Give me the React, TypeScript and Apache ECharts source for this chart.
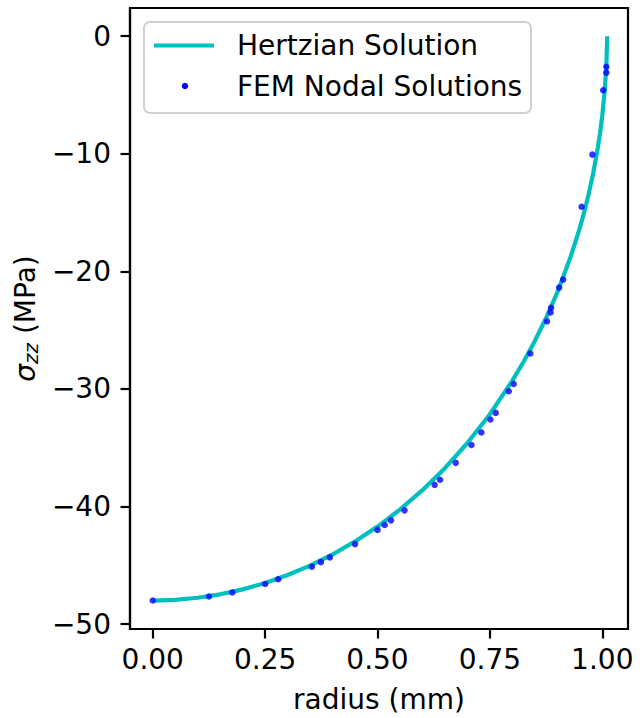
import React, { useEffect, useRef } from "react";
import * as echarts from "echarts";

// Hertzian analytical curve
const hertzRadius = [0, 0.05, 0.1, 0.15, 0.2, 0.25, 0.3, 0.35, 0.4, 0.45, 0.5, 0.55, 0.6, 0.65, 0.7, 0.75, 0.8, 0.825, 0.85, 0.875, 0.9, 0.93, 0.95, 0.96, 0.97, 0.98, 0.99, 0.995, 1.0, 1.005, 1.009, 1.011];
const hertzStress = [-48.0, -47.94, -47.76, -47.47, -47.05, -46.51, -45.83, -45.03, -44.08, -42.97, -41.71, -40.26, -38.61, -36.74, -34.6, -32.15, -29.3, -27.69, -25.92, -23.97, -21.79, -18.72, -16.3, -14.92, -13.37, -11.61, -9.5, -8.25, -6.74, -4.77, -2.6, 0];

// FEM nodal solutions
const femRadius = [0, 0.125, 0.177, 0.25, 0.279, 0.354, 0.374, 0.394, 0.45, 0.5, 0.516, 0.53, 0.56, 0.627, 0.639, 0.674, 0.709, 0.731, 0.751, 0.763, 0.792, 0.803, 0.84, 0.877, 0.885, 0.886, 0.904, 0.913, 0.954, 0.978, 1.002, 1.009, 1.009];
const femStress = [-48.0, -47.66, -47.32, -46.59, -46.19, -45.12, -44.73, -44.33, -43.2, -41.99, -41.57, -41.18, -40.33, -38.16, -37.73, -36.29, -34.77, -33.7, -32.6, -32.04, -30.2, -29.58, -26.99, -24.25, -23.49, -23.1, -21.38, -20.7, -14.5, -10.07, -4.6, -3.1, -2.6];

const xTicks = [0, 0.25, 0.5, 0.75, 1.0];
const yTicks = [-50, -40, -30, -20, -10, 0];

const seriesNames = ["Hertzian Solution", "FEM Nodal Solutions"];

const FONT = "DejaVu Sans";
const FS = 28;

export default function App() {
  const ref = useRef<HTMLDivElement>(null);

  useEffect(() => {
    if (!ref.current) return;
    const chart = echarts.init(ref.current, null, { renderer: "svg" });
    const hertz = hertzRadius.map((r, i) => [r, hertzStress[i]]);
    const fem = femRadius.map((r, i) => [r, femStress[i]]);

    const axisCommon = {
      splitLine: { show: false },
      axisLine: { show: true, onZero: false, lineStyle: { color: "#000", width: 2.2 } },
      axisTick: { show: true, inside: false, length: 9.5, lineStyle: { color: "#000", width: 2.2 } },
    };

    chart.setOption({
      animation: false,
      backgroundColor: "#fff",
      grid: {
        left: 130,
        right: 16,
        top: 8,
        bottom: 87,
        show: true,
        borderColor: "#000",
        borderWidth: 2.2,
        backgroundColor: "transparent",
      },
      xAxis: {
        type: "value",
        min: -0.0506,
        max: 1.0572,
        ...axisCommon,
        axisTick: { ...axisCommon.axisTick, customValues: xTicks },
        axisLabel: {
          customValues: xTicks,
          formatter: (v: number) => v.toFixed(2),
          fontFamily: FONT,
          fontSize: FS,
          color: "#000",
          margin: 16,
        },
        name: "radius (mm)",
        nameLocation: "middle",
        nameGap: 56,
        nameTextStyle: { fontFamily: FONT, fontSize: FS, color: "#000" },
      },
      yAxis: {
        type: "value",
        min: -50.42,
        max: 2.4,
        ...axisCommon,
        axisTick: { ...axisCommon.axisTick, customValues: yTicks },
        axisLabel: {
          customValues: yTicks,
          formatter: (v: number) => (v === 0 ? "0" : (v < 0 ? "\u2212" : "") + Math.abs(v)),
          fontFamily: FONT,
          fontSize: FS,
          color: "#000",
          margin: 19,
        },
        name: "{a|σ}{b|zz} (MPa)",
        nameLocation: "middle",
        nameRotate: 90,
        nameGap: 87,
        nameTextStyle: {
          fontFamily: FONT,
          fontSize: FS,
          color: "#000",
          rich: {
            a: { fontFamily: FONT, fontSize: FS, fontStyle: "italic", color: "#000" },
            b: { fontFamily: FONT, fontSize: 20, fontStyle: "italic", color: "#000", padding: [12, 0, 0, 0] },
          },
        },
      },
      series: [
        {
          name: seriesNames[0],
          type: "line",
          data: hertz,
          showSymbol: false,
          smooth: false,
          lineStyle: { color: "#00bfbf", width: 4.2 },
          itemStyle: { color: "#00bfbf" },
          z: 2,
        },
        {
          name: seriesNames[1],
          type: "scatter",
          data: fem,
          symbol: "circle",
          symbolSize: 6.5,
          itemStyle: { color: "#0000ff" },
          z: 3,
        },
      ],
      graphic: [
        {
          type: "group",
          z: 100,
          children: [
            {
              type: "rect",
              shape: { x: 144, y: 22, width: 387, height: 91, r: 6 },
              style: { fill: "rgba(255,255,255,0.8)", stroke: "#d0d0d0", lineWidth: 2 },
            },
            {
              type: "line",
              shape: { x1: 154, y1: 45.5, x2: 214, y2: 45.5 },
              style: { stroke: "#00bfbf", lineWidth: 4.2 },
            },
            {
              type: "circle",
              shape: { cx: 185, cy: 86, r: 3.2 },
              style: { fill: "#0000ff" },
            },
            {
              type: "text",
              x: 237,
              y: 45.5,
              style: { text: seriesNames[0], font: `${FS}px "${FONT}"`, fill: "#000", verticalAlign: "middle", align: "left" },
            },
            {
              type: "text",
              x: 237,
              y: 86,
              style: { text: seriesNames[1], font: `${FS}px "${FONT}"`, fill: "#000", verticalAlign: "middle", align: "left" },
            },
          ],
        },
      ],
    });
    return () => chart.dispose();
  }, []);

  return (
    <div
      ref={ref}
      style={{ position: "fixed", left: 0, top: 0, width: 644, height: 718, background: "#fff" }}
    />
  );
}
